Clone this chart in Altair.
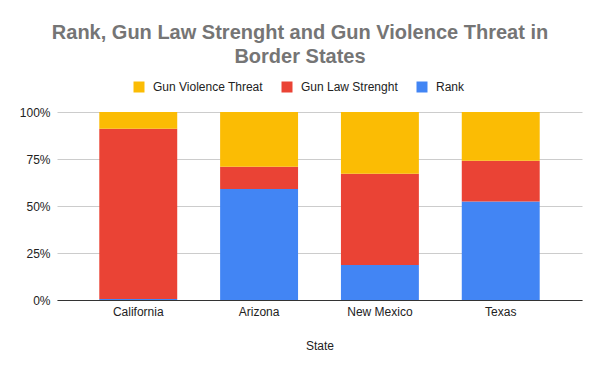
import altair as alt
import pandas as pd

states = ["California", "Arizona", "New Mexico", "Texas"]
series = ["Gun Violence Threat", "Gun Law Strenght", "Rank"]
colors = ["#fbbc04", "#ea4335", "#4285f4"]
rank = [0.5, 59.1, 18.6, 52.4]
law = [90.6, 11.8, 48.5, 21.7]
threat = [8.9, 29.1, 32.9, 25.9]

rows = []
for i, s in enumerate(states):
    rows.append({"State": s, "Series": "Rank", "Value": rank[i], "ord": 0})
    rows.append({"State": s, "Series": "Gun Law Strenght", "Value": law[i], "ord": 1})
    rows.append({"State": s, "Series": "Gun Violence Threat", "Value": threat[i], "ord": 2})
df = pd.DataFrame(rows)

FONT = "Liberation Sans"

chart = alt.Chart(df).mark_bar().encode(
    x=alt.X("State:N", sort=states, title="State",
            scale=alt.Scale(paddingInner=0.355, paddingOuter=0.35),
            axis=alt.Axis(labelAngle=0, labelPadding=6, titlePadding=23, ticks=False,
                          domainColor="#333333", labelColor="#222222", titleColor="#222222",
                          labelFontSize=12, titleFontSize=12, titleFontWeight="normal",
                          labelFont=FONT, titleFont=FONT)),
    y=alt.Y("Value:Q", stack="normalize", title=None,
            scale=alt.Scale(domain=[0, 1]),
            axis=alt.Axis(format="%", values=[0, 0.25, 0.5, 0.75, 1], ticks=False, domain=False,
                          gridColor="#cccccc", labelColor="#222222", labelFontSize=12,
                          labelPadding=7, labelFont=FONT)),
    color=alt.Color("Series:N", scale=alt.Scale(domain=series, range=colors),
                    legend=alt.Legend(orient="none", legendX=76, legendY=-31, direction="horizontal",
                                      title=None, symbolType="square", symbolSize=121,
                                      symbolStrokeWidth=0, labelFontSize=12, labelColor="#222222",
                                      labelFont=FONT, labelOffset=8, columnPadding=18)),
    order=alt.Order("ord:Q", sort="ascending"),
).properties(
    width=525, height=188,
    title=alt.TitleParams(["Rank, Gun Law Strenght and Gun Violence Threat in", "Border States"],
                          anchor="middle", dx=-19.5, fontSize=20, font=FONT, fontWeight="bold",
                          color="#757575", lineHeight=24, offset=14),
    autosize=alt.AutoSizeParams(type="none"),
    padding={"left": 49, "top": 104, "right": 10, "bottom": 63},
).configure_view(stroke=None)

chart.save("out.html", embed_options={"renderer": "svg", "actions": False})
